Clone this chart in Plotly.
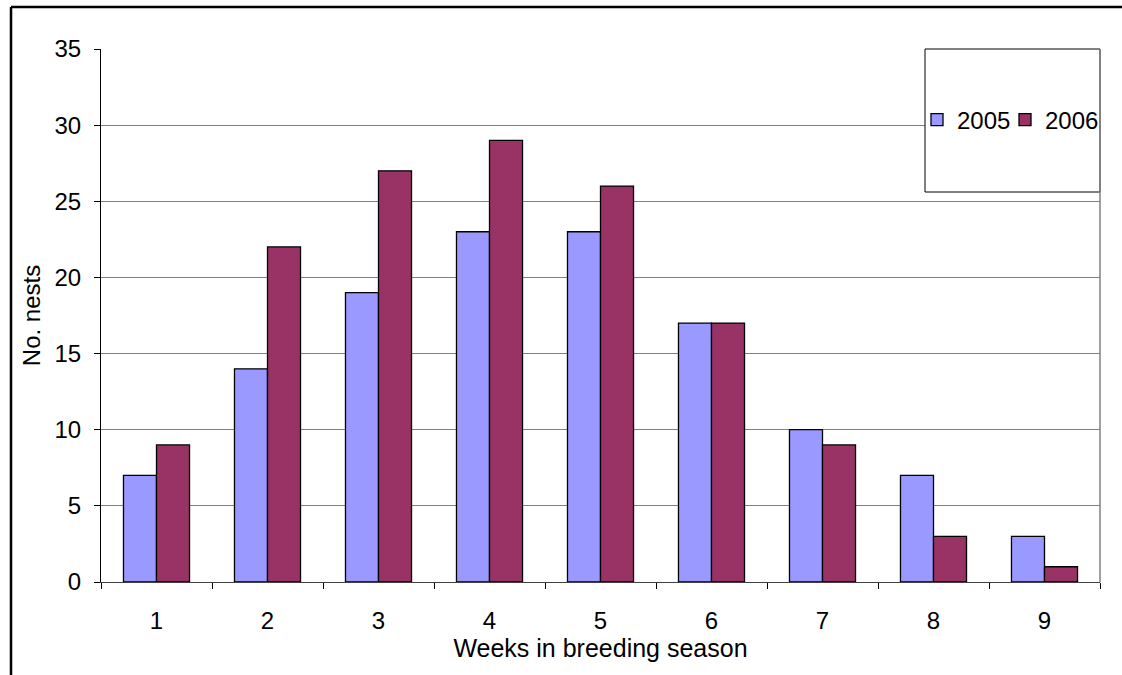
import plotly.graph_objects as go

weeks = ["1", "2", "3", "4", "5", "6", "7", "8", "9"]
nests_2005 = [7, 14, 19, 23, 23, 17, 10, 7, 3]
nests_2006 = [9, 22, 27, 29, 26, 17, 9, 3, 1]
y_ticks = [0, 5, 10, 15, 20, 25, 30, 35]

FONT = "Liberation Sans, Arial, sans-serif"
W, H = 1122, 675
# target plot area in page pixels: x 101..1100, y 49..582
ML, MR, MT, MB = 101, 22, 49, 93
PW = W - ML - MR
PH = H - MT - MB

def px_x(x):
    return (x - ML) / PW

def px_y(y):
    return (H - MB - y) / PH

fig = go.Figure()
fig.add_trace(go.Bar(x=weeks, y=nests_2005, name="2005", legend="legend",
                     marker=dict(color="#9999FF", line=dict(color="black", width=1.3))))
fig.add_trace(go.Bar(x=weeks, y=nests_2006, name="2006", legend="legend2",
                     marker=dict(color="#993366", line=dict(color="black", width=1.3))))

shapes = [
    # legend box
    dict(type="rect", xref="paper", yref="paper", x0=px_x(925), x1=1.0,
         y0=px_y(192), y1=1.0, fillcolor="white", line=dict(color="black", width=1),
         layer="above"),
    # right plot border
    dict(type="line", xref="paper", yref="paper", x0=1, x1=1, y0=0, y1=1,
         line=dict(color="#808080", width=1.5)),
    # outer chart border (left and top)
    dict(type="line", xref="paper", yref="paper", x0=px_x(11), x1=px_x(11),
         y0=px_y(700), y1=px_y(7), line=dict(color="black", width=2.5)),
    dict(type="line", xref="paper", yref="paper", x0=px_x(11), x1=px_x(1130),
         y0=px_y(7), y1=px_y(7), line=dict(color="black", width=2.5)),
]

legend_common = dict(orientation="h", xanchor="left", yanchor="middle",
                     bgcolor="rgba(0,0,0,0)", borderwidth=0, itemwidth=30,
                     font=dict(family=FONT, size=24, color="black"))

fig.update_layout(
    width=W, height=H,
    margin=dict(l=ML, r=MR, t=MT, b=MB, autoexpand=False),
    paper_bgcolor="white", plot_bgcolor="white",
    font=dict(family=FONT, size=24, color="black"),
    barmode="group", bargap=0.405, bargroupgap=0,
    showlegend=True,
    legend=dict(x=px_x(917), y=px_y(120), **legend_common),
    legend2=dict(x=px_x(1005), y=px_y(120), **legend_common),
    shapes=shapes,
    xaxis=dict(type="category", tickson="boundaries", ticks="outside", ticklen=6,
               tickcolor="black", showline=True, linecolor="#404040", linewidth=1.2,
               showgrid=False, ticklabelstandoff=17,
               title=dict(text="Weeks in breeding season", standoff=6,
                          font=dict(family=FONT, size=25)),
               automargin=False),
    yaxis=dict(range=[0, 35], tickvals=y_ticks, ticks="outside", ticklen=6,
               tickcolor="black", showline=True, linecolor="black", linewidth=1.2,
               showgrid=True, gridcolor="#808080", gridwidth=1, zeroline=False,
               ticklabelstandoff=8,
               title=dict(text="No. nests", standoff=6, font=dict(family=FONT, size=24)),
               automargin=False),
)

fig.write_html("out.html",
               config={"displayModeBar": False},
               post_script="document.body.style.margin='0px';document.body.style.overflow='hidden';")
